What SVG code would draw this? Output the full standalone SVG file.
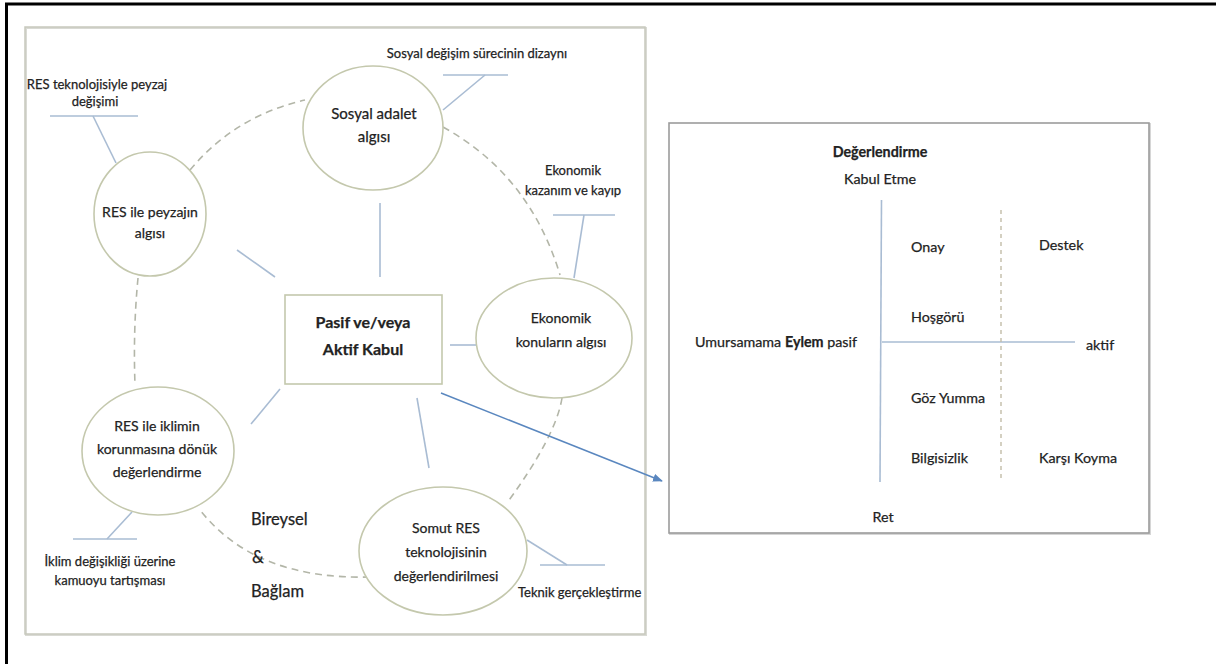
<svg xmlns="http://www.w3.org/2000/svg" width="1216" height="664" viewBox="0 0 1216 664">
<defs>
<style>
text{font-family:Lato,"Liberation Sans",sans-serif;fill:#222;stroke:#222;stroke-width:0.25;}
.e{font-size:14px;text-anchor:middle;}
.s{font-size:13px;}
.sm{font-size:13px;text-anchor:middle;}
.r{font-size:14.3px;}
.b{font-weight:bold;}
.ell{fill:#fff;stroke:#c4c8ad;stroke-width:1.6;}
.con{stroke:#a9bcd3;stroke-width:1.6;fill:none;}
.dash{stroke:#b3b6a8;stroke-width:1.6;fill:none;stroke-dasharray:7 5;}
</style>
<marker id="ah" markerWidth="10" markerHeight="8" refX="9" refY="4" orient="auto" markerUnits="userSpaceOnUse">
<path d="M0,0 L10,4 L0,8 z" fill="#5a87bf"/>
</marker>
</defs>
<rect width="1216" height="664" fill="#fff"/>
<g id="frame">
<line x1="5" y1="4" x2="1216" y2="4" stroke="#000" stroke-width="3"/>
<line x1="6.5" y1="3" x2="6.5" y2="664" stroke="#000" stroke-width="3"/>
<rect x="26" y="28" width="620" height="607" fill="none" stroke="#d9dad4" stroke-width="2"/>
<rect x="25" y="27" width="620" height="607" fill="none" stroke="#c7c9bd" stroke-width="1.5"/>
</g>
<g id="connectors">
<path class="dash" d="M190,170 Q235,116 305,100"/>
<path class="dash" d="M443,127 Q530,175 560,275"/>
<path class="dash" d="M562,398 Q556,436 507,503"/>
<path class="dash" d="M370,577 Q255,580 200,510"/>
<path class="dash" d="M138,278 Q133,330 135,385"/>
<line class="con" x1="380" y1="203" x2="380" y2="277"/>
<line class="con" x1="237" y1="250" x2="275" y2="277"/>
<line class="con" x1="450" y1="345" x2="476" y2="345"/>
<line class="con" x1="251" y1="424" x2="280" y2="389"/>
<line class="con" x1="417" y1="398" x2="429" y2="468"/>
<line class="con" x1="50" y1="116" x2="138" y2="116"/>
<line class="con" x1="93" y1="116" x2="116" y2="163"/>
<line class="con" x1="443" y1="75" x2="508" y2="75"/>
<line class="con" x1="485" y1="75" x2="443" y2="110"/>
<line class="con" x1="553" y1="215" x2="615" y2="215"/>
<line class="con" x1="584" y1="215" x2="574" y2="278"/>
<line class="con" x1="73" y1="539" x2="137" y2="539"/>
<line class="con" x1="107" y1="539" x2="132" y2="512"/>
<line class="con" x1="540" y1="565" x2="605" y2="565"/>
<line class="con" x1="567" y1="565" x2="527" y2="540"/>
<line x1="441" y1="393" x2="662" y2="481" stroke="#5a87bf" stroke-width="1.5" marker-end="url(#ah)"/>
</g>
<g id="n-center">
<rect x="285" y="295" width="157" height="89" fill="#fff" stroke="#c4c8ad" stroke-width="1.6"/>
<text class="e b" x="363" y="328" style="font-size:16px">Pasif ve/veya</text>
<text class="e b" x="363" y="355" style="font-size:16px">Aktif Kabul</text>
</g>
<g id="n-sosyal">
<ellipse class="ell" cx="373" cy="128" rx="70" ry="62"/>
<text class="e" x="374" y="119" style="font-size:15px">Sosyal adalet</text>
<text class="e" x="374" y="142" style="font-size:15px">algısı</text>
</g>
<g id="n-peyzaj">
<ellipse class="ell" cx="150" cy="214" rx="56" ry="62"/>
<text class="e" x="150" y="217">RES ile peyzajın</text>
<text class="e" x="150" y="238">algısı</text>
</g>
<g id="n-ekonomik">
<ellipse class="ell" cx="554" cy="338" rx="78" ry="60"/>
<text class="e" x="561" y="323">Ekonomik</text>
<text class="e" x="561" y="347">konuların algısı</text>
</g>
<g id="n-iklim">
<ellipse class="ell" cx="158" cy="451" rx="76" ry="64"/>
<text class="e" x="157" y="431">RES ile iklimin</text>
<text class="e" x="157" y="454">korunmasına dönük</text>
<text class="e" x="157" y="477">değerlendirme</text>
</g>
<g id="n-somut">
<ellipse class="ell" cx="443" cy="551" rx="84" ry="64"/>
<text class="e" x="446" y="533">Somut RES</text>
<text class="e" x="446" y="557">teknolojisinin</text>
<text class="e" x="446" y="581">değerlendirilmesi</text>
</g>
<g id="l-peyzaj">
<text class="sm" x="97" y="89">RES teknolojisiyle peyzaj</text>
<text class="sm" x="95" y="106">değişimi</text>
</g>
<g id="l-sosyal">
<text class="sm" x="477" y="58">Sosyal değişim sürecinin dizaynı</text>
</g>
<g id="l-ekonomik">
<text class="sm" x="573" y="175">Ekonomik</text>
<text class="sm" x="573" y="195">kazanım ve kayıp</text>
</g>
<g id="l-iklim">
<text class="sm" x="110" y="566">İklim değişikliği üzerine</text>
<text class="sm" x="110" y="585">kamuoyu tartışması</text>
</g>
<g id="l-teknik">
<text class="s" x="518" y="597">Teknik gerçekleştirme</text>
</g>
<g id="l-context">
<text x="251" y="525" style="font-size:16.5px">Bireysel</text>
<text x="252" y="563" style="font-size:16.5px">&amp;</text>
<text x="251" y="597" style="font-size:16.5px">Bağlam</text>
</g>
<g id="n-eval">
<rect x="670" y="124" width="480" height="410" fill="none" stroke="#d6d6d6" stroke-width="2"/>
<rect x="669" y="123" width="480" height="410" fill="#fff" stroke="#9c9c9c" stroke-width="1.6"/>
<line x1="881.5" y1="200" x2="880" y2="482" stroke="#a9bcd3" stroke-width="1.6"/>
<line x1="882" y1="342" x2="1075" y2="342" stroke="#a9bcd3" stroke-width="1.6"/>
<line x1="1001" y1="210" x2="1001" y2="480" stroke="#c2bda8" stroke-width="1.4" stroke-dasharray="4 4"/>
<text class="r b" x="880" y="157" text-anchor="middle">Değerlendirme</text>
<text class="r" x="880" y="184" text-anchor="middle">Kabul Etme</text>
<text class="r" x="911" y="252">Onay</text>
<text class="r" x="1039" y="250">Destek</text>
<text class="r" x="911" y="322">Hoşgörü</text>
<text class="r" x="695" y="347">Umursamama <tspan class="b">Eylem</tspan> pasif</text>
<text class="r" x="1086" y="350">aktif</text>
<text class="r" x="911" y="403">Göz Yumma</text>
<text class="r" x="911" y="463">Bilgisizlik</text>
<text class="r" x="1039" y="463">Karşı Koyma</text>
<text class="r" x="883" y="522" text-anchor="middle">Ret</text>
</g>
</svg>
